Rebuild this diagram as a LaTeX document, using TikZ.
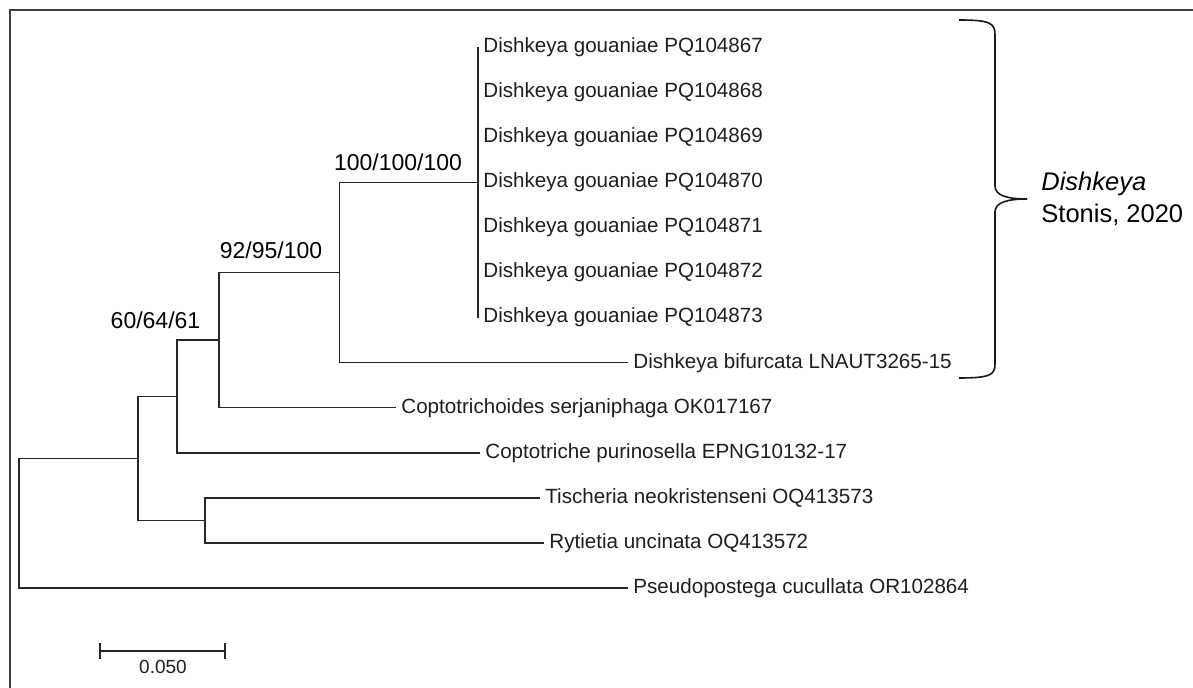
\documentclass[tikz,border=0pt]{standalone}
\usepackage{fontspec}
\setmainfont{Liberation Sans}
\usetikzlibrary{positioning}
\tikzstyle{taxon} = [anchor=west, inner xsep=2.5pt, inner ysep=0pt, text=black!88, font=\fontsize{10.3}{12}\selectfont]
\tikzstyle{support} = [inner sep=0pt, font=\fontsize{11.5}{14}\selectfont]
\tikzstyle{branch} = [draw, line width=0.7pt, black!85]
\tikzstyle{brace} = [draw, line width=0.8pt, black!90]
\tikzstyle{frame} = [draw, line width=1pt, black!75]
\tikzstyle{genus} = [align=left, anchor=west, inner sep=0pt, font=\fontsize{12.75}{16}\selectfont]

\begin{document}
\begin{tikzpicture}[x=0.5pt, y=-0.5pt]
	\fill[white] (0,0) rectangle (1193,688);
	\useasboundingbox (0,0) rectangle (1193,688);
	\path[frame] (10,688) -- (10,10) -- (1193,10);
	
	\foreach \i [evaluate=\i as \acc using int(66+\i), evaluate=\i as \ty using 47+45.1*(\i-1)] in {1,...,7}
		\node[taxon] (g\i) at (478,\ty) {Dishkeya gouaniae PQ1048\acc};
	\node[taxon] (bif) at (628,362.7) {Dishkeya bifurcata LNAUT3265-15};
	\node[taxon] (cps) at (396,407.8) {Coptotrichoides serjaniphaga OK017167};
	\node[taxon] (cpt) at (480,452.9) {Coptotriche purinosella EPNG10132-17};
	\node[taxon] (tis) at (540,498) {Tischeria neokristenseni OQ413573};
	\node[taxon] (ryt) at (544,543.1) {Rytietia uncinata OQ413572};
	\node[taxon] (pse) at (628,588.2) {Pseudopostega cucullata OR102864};
	
	\coordinate (nE) at (478,182.3);
	\coordinate (nD) at (339.5,272.5);
	\coordinate (nC) at (219,340.2);
	\coordinate (nB) at (177,396.5);
	\coordinate (nF) at (205,520.6);
	\coordinate (nA) at (138,458.5);
	\coordinate (nR) at (19,523.4);
	
	\path[branch] (g1.west) -- (g7.west);
	\path[branch] (nE) -| (nD) |- (bif.west);
	\path[branch] (nD) -| (nC) |- (cps.west);
	\path[branch] (nC) -| (nB) |- (cpt.west);
	\path[branch] (tis.west) -| (nF) |- (ryt.west);
	\path[branch] (nB) -| (nA) |- (nF);
	\path[branch] (nA) -| (nR) |- (pse.west);
	
	\node[support] (sE) at (398,162) {100/100/100};
	\node[support] (sD) at (271,250) {92/95/100};
	\node[support] (sC) at (155.5,320) {60/64/61};
	
	\path[brace] (959,20) .. controls (990,20) and (995,23) .. (995,35) -- (995,186)
		.. controls (995,195) and (1006,199) .. (1027,199)
		.. controls (1006,199) and (995,203) .. (995,212) -- (995,364)
		.. controls (995,375) and (990,378) .. (959,378);
	\coordinate (tip) at (1027,199);
	\node[genus, right=7pt of tip] (genus) {\textit{Dishkeya}\\Stonis, 2020};
	
	\coordinate (sbL) at (100,651);
	\coordinate (sbR) at (225,651);
	\path[branch] (sbL) -- (sbR);
	\path[branch] (100,643) -- (100,659);
	\path[branch] (225,643) -- (225,659);
	\node[taxon, anchor=center, font=\fontsize{9.5}{11}\selectfont] (scale) at (163,667) {0.050};
\end{tikzpicture}
\end{document}
